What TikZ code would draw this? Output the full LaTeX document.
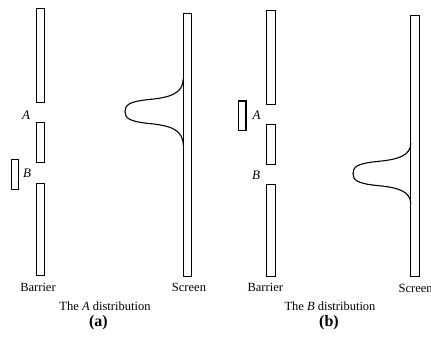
\documentclass[tikz,border=0pt]{standalone}
\usepackage{fontspec}
\setmainfont{Liberation Serif}
\usepackage{tikz}
\usetikzlibrary{positioning}
\tikzset{
  bar/.style={draw=black, line width=0.8bp},
  shutter/.style={draw=black, line width=1.4bp},
  bump/.style={draw=black, line width=1.1bp},
  slitlbl/.style={inner sep=0pt, font=\fontsize{13bp}{15bp}\selectfont\itshape},
  lbl/.style={inner sep=0pt, font=\fontsize{12.5bp}{15bp}\selectfont},
  panel/.style={inner sep=0pt, font=\fontsize{16bp}{18bp}\selectfont\bfseries}
}

\begin{document}
\begin{tikzpicture}[x=1bp, y=-1bp]
      \useasboundingbox (0,0) rectangle (431,339);
      % (a): slit B shut
      \draw[bar] (36.7,8.3) rectangle (44.5,102.5);
      \draw[bar] (36.7,122.3) rectangle (44.5,162.5);
      \draw[bar] (36.7,183.3) rectangle (44.5,275);
      \draw[shutter] (11.7,159.5) rectangle (18.3,189.3);
      \draw[bar] (183.2,13.3) rectangle (191.7,276);
      \draw[bump] (183.2,79) .. controls (183,93) and (171,97.5) .. (149,99.5)
        .. controls (129,101.5) and (125,105) .. (125,111.5)
        .. controls (125,118) and (129,121.5) .. (149,123.5)
        .. controls (171,125.5) and (183,130) .. (183.2,145);
      \node[slitlbl] (slitA-a) at (26,115.7) {A};
      \node[slitlbl] (slitB-a) at (27,173) {B};
      \node[lbl] (barrier-a) at (38,287) {Barrier};
      \node[lbl] (screen-a) at (189,287) {Screen};
      \node[lbl] (dist-a) at (105,306) {The \textit{A} distribution};
      \node[panel] (tag-a) at (98.5,322.5) {(a)};
      % (b): slit A shut
      \draw[bar] (266.5,10) rectangle (275,104.3);
      \draw[bar] (266.5,124) rectangle (275,164);
      \draw[bar] (266.5,184.3) rectangle (275,276.7);
      \draw[shutter] (238.3,101) rectangle (245.8,130.5);
      \draw[bar] (410.8,15.7) rectangle (419,276.7);
      \draw[bump] (410.8,143) .. controls (410.6,156) and (398,159.5) .. (377,161.5)
        .. controls (357,163.5) and (353,167) .. (353,173.5)
        .. controls (353,180) and (357,183.5) .. (377,185.5)
        .. controls (398,187.5) and (410.6,191) .. (410.8,204);
      \node[slitlbl] (slitA-b) at (256.7,115.7) {A};
      \node[slitlbl] (slitB-b) at (256,175) {B};
      \node[lbl] (barrier-b) at (265.3,287) {Barrier};
      \node[lbl] (screen-b) at (415.7,288) {Screen};
      \node[lbl] (dist-b) at (330,306) {The \textit{B} distribution};
      \node[panel] (tag-b) at (329,322.5) {(b)};
    \end{tikzpicture}
\end{document}
